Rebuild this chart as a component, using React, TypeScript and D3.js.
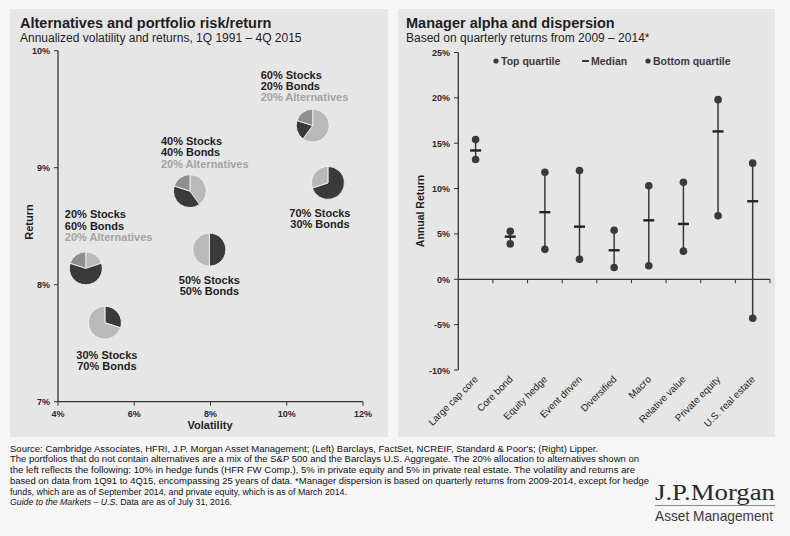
import React from "react";
import * as d3 from "d3";

// ---------- Left chart data ----------
const stocks = [60, 40, 70, 20, 50, 30];
const bonds = [20, 40, 30, 60, 50, 70];
const alternatives = [20, 20, 0, 20, 0, 0];
const volatility = [10.68, 7.46, 11.08, 4.73, 7.97, 5.23];
const portfolioReturn = [9.36, 8.8, 8.87, 8.14, 8.3, 7.675];
const volTicks = [4, 6, 8, 10, 12];
const retTicks = [7, 8, 9, 10];

// ---------- Right chart data ----------
const categories = [
  "Large cap core",
  "Core bond",
  "Equity hedge",
  "Event driven",
  "Diversified",
  "Macro",
  "Relative value",
  "Private equity",
  "U.S. real estate",
];
const topQuartile = [15.4, 5.3, 11.8, 12.0, 5.4, 10.3, 10.7, 19.8, 12.8];
const median = [14.2, 4.7, 7.4, 5.8, 3.2, 6.5, 6.1, 16.3, 8.6];
const bottomQuartile = [13.2, 3.9, 3.3, 2.2, 1.3, 1.5, 3.1, 7.0, -4.3];
const returnTicks = [-10, -5, 0, 5, 10, 15, 20, 25];

const footnotes = [
  "Source: Cambridge Associates, HFRI, J.P. Morgan Asset Management; (Left) Barclays, FactSet, NCREIF, Standard & Poor's; (Right) Lipper.",
  "The portfolios that do not contain alternatives are a mix of the S&P 500 and the Barclays U.S. Aggregate. The 20% allocation to alternatives shown on",
  "the left reflects the following: 10% in hedge funds (HFR FW Comp.), 5% in private equity and 5% in private real estate. The volatility and returns are",
  "based on data from 1Q91 to 4Q15, encompassing 25 years of data. *Manager dispersion is based on quarterly returns from 2009-2014, except for hedge",
  "funds, which are as of September 2014, and private equity, which is as of March 2014.",
];
const footWidths = [588, 629, 625, 639, 337];

const FONT = "'Liberation Sans', Arial, Helvetica, sans-serif";
const DARK = "#3a3a3a";
const LIGHT = "#b9b9b9";
const MID = "#8f8f8f";
const TEXT = "#1e1e1e";

// label layout relative to each pie center
const labelLayout = [
  { dx: -52, dy: -47, anchor: "start" },
  { dx: -29, dy: -46, anchor: "start" },
  { dx: -8, dy: 34, anchor: "middle" },
  { dx: -21, dy: -50, anchor: "start" },
  { dx: 0, dy: 34, anchor: "middle" },
  { dx: 2, dy: 36, anchor: "middle" },
];

export default function App() {
  const W = 790;
  const H = 536;

  // left scales
  const xL = d3.scaleLinear().domain([4, 12]).range([58, 363]);
  const yL = d3.scaleLinear().domain([7, 10]).range([401.7, 50.7]);

  // right scales
  const xR = d3.scaleBand().domain(categories).range([458.3, 770]).paddingInner(0).paddingOuter(0);
  const yR = d3.scaleLinear().domain([-10, 25]).range([370, 52.5]);

  const pieGen = d3.pie<number>().sort(null).value((d) => d);
  const pieR = 16.5;
  const arcGen = d3.arc<d3.PieArcDatum<number>>().innerRadius(0).outerRadius(pieR);

  const lineH = 11.3;

  return (
    <svg
      width={W}
      height={H}
      viewBox={`0 0 ${W} ${H}`}
      style={{ position: "absolute", left: 0, top: 0, fontFamily: FONT }}
    >
      <rect x={0} y={0} width={W} height={H} fill="#f6f6f6" />
      {/* panels */}
      <rect x={10} y={9} width={378} height={428} fill="#e6e6e6" />
      <rect x={398} y={9} width={377} height={428} fill="#e6e6e6" />

      {/* ---------- LEFT ---------- */}
      <text x={20} y={28} fontSize={14.5} fontWeight="bold" fill={TEXT}>
        Alternatives and portfolio risk/return
      </text>
      <text x={20} y={41.5} fontSize={12} fill={TEXT}>
        Annualized volatility and returns, 1Q 1991 – 4Q 2015
      </text>

      {/* axes */}
      <line x1={xL(4)} x2={xL(4)} y1={yL(10)} y2={yL(7)} stroke="#333" strokeWidth={1.3} />
      <line x1={xL(4)} x2={xL(12)} y1={yL(7)} y2={yL(7)} stroke="#333" strokeWidth={1.3} />
      {retTicks.map((t) => (
        <g key={"rt" + t}>
          <line x1={xL(4) - 4} x2={xL(4)} y1={yL(t)} y2={yL(t)} stroke="#333" strokeWidth={1} />
          <text x={xL(4) - 8} y={yL(t) + 3.5} fontSize={9} fontWeight="bold" textAnchor="end" fill="#2a2a2a">
            {t}%
          </text>
        </g>
      ))}
      {volTicks.map((t) => (
        <g key={"vt" + t}>
          <line x1={xL(t)} x2={xL(t)} y1={yL(7)} y2={yL(7) + 4} stroke="#333" strokeWidth={1} />
          <text x={xL(t)} y={yL(7) + 15} fontSize={9} fontWeight="bold" textAnchor="middle" fill="#2a2a2a">
            {t}%
          </text>
        </g>
      ))}
      <text x={210} y={429} fontSize={11} fontWeight="bold" textAnchor="middle" fill={TEXT}>
        Volatility
      </text>
      <text
        transform={`translate(33,222) rotate(-90)`}
        fontSize={11}
        fontWeight="bold"
        textAnchor="middle"
        fill={TEXT}
      >
        Return
      </text>

      {/* pies */}
      {stocks.map((s, i) => {
        const cx = xL(volatility[i]);
        const cy = yL(portfolioReturn[i]);
        const hasAlt = alternatives[i] > 0;
        const vals = hasAlt ? [s, bonds[i], alternatives[i]] : [s, bonds[i]];
        const cols = hasAlt ? [LIGHT, DARK, MID] : [DARK, LIGHT];
        const arcs = pieGen(vals);
        const L = labelLayout[i];
        const lines = [
          { t: `${s}% Stocks`, c: TEXT },
          { t: `${bonds[i]}% Bonds`, c: TEXT },
        ];
        if (hasAlt) lines.push({ t: `${alternatives[i]}% Alternatives`, c: "#a3a3a3" });
        return (
          <g key={"pie" + i}>
            <g transform={`translate(${cx},${cy})`}>
              {arcs.map((a, j) => (
                <path key={j} d={arcGen(a) || ""} fill={cols[j]} stroke="#f2f2f2" strokeWidth={0.9} />
              ))}
            </g>
            {lines.map((ln, k) => (
              <text
                key={k}
                x={cx + L.dx}
                y={cy + L.dy + k * lineH}
                fontSize={11}
                fontWeight="bold"
                textAnchor={L.anchor as any}
                fill={ln.c}
              >
                {ln.t}
              </text>
            ))}
          </g>
        );
      })}

      {/* ---------- RIGHT ---------- */}
      <text x={406} y={28} fontSize={14.5} fontWeight="bold" fill={TEXT}>
        Manager alpha and dispersion
      </text>
      <text x={406} y={41.5} fontSize={12} fill={TEXT}>
        Based on quarterly returns from 2009 – 2014*
      </text>

      {/* legend */}
      <circle cx={496} cy={61} r={2.6} fill={DARK} />
      <text x={501} y={64.5} fontSize={10.5} fontWeight="bold" fill="#3c3c3c">
        Top quartile
      </text>
      <line x1={582} x2={589} y1={61} y2={61} stroke={DARK} strokeWidth={2} />
      <text x={591} y={64.5} fontSize={10.5} fontWeight="bold" fill="#3c3c3c">
        Median
      </text>
      <circle cx={648} cy={61} r={2.6} fill={DARK} />
      <text x={653} y={64.5} fontSize={10.5} fontWeight="bold" fill="#3c3c3c">
        Bottom quartile
      </text>

      {/* axes */}
      <line x1={458.3} x2={458.3} y1={yR(25)} y2={yR(-10)} stroke="#333" strokeWidth={1.3} />
      {returnTicks.map((t) => (
        <g key={"yt" + t}>
          <line x1={454} x2={458.3} y1={yR(t)} y2={yR(t)} stroke="#333" strokeWidth={1} />
          <text x={450} y={yR(t) + 3.5} fontSize={9} fontWeight="bold" textAnchor="end" fill="#2a2a2a">
            {t}%
          </text>
        </g>
      ))}
      <line x1={458.3} x2={770} y1={yR(0)} y2={yR(0)} stroke="#333" strokeWidth={1.3} />
      {categories.map((c, i) => (
        <line
          key={"xt" + i}
          x1={(xR(c) as number) + xR.bandwidth()}
          x2={(xR(c) as number) + xR.bandwidth()}
          y1={yR(0)}
          y2={yR(0) + 4}
          stroke="#333"
          strokeWidth={1}
        />
      ))}
      <text
        transform={`translate(424,211) rotate(-90)`}
        fontSize={10.5}
        fontWeight="bold"
        textAnchor="middle"
        fill={TEXT}
      >
        Annual Return
      </text>

      {categories.map((c, i) => {
        const cx = (xR(c) as number) + xR.bandwidth() / 2;
        return (
          <g key={"cat" + i}>
            <line x1={cx} x2={cx} y1={yR(topQuartile[i])} y2={yR(bottomQuartile[i])} stroke={DARK} strokeWidth={1.5} />
            <circle cx={cx} cy={yR(topQuartile[i])} r={3.8} fill={DARK} />
            <circle cx={cx} cy={yR(bottomQuartile[i])} r={3.8} fill={DARK} />
            <line x1={cx - 5.5} x2={cx + 5.5} y1={yR(median[i])} y2={yR(median[i])} stroke="#222" strokeWidth={2.4} />
            <text
              transform={`translate(${cx + 3},${380}) rotate(-45)`}
              fontSize={9.8}
              textAnchor="end"
              fill={TEXT}
            >
              {c}
            </text>
          </g>
        );
      })}

      {/* ---------- footnotes ---------- */}
      {footnotes.map((f, i) => (
        <text
          key={"fn" + i}
          x={10}
          y={451.7 + i * 10.7}
          fontSize={8.9}
          fill="#111"
          textLength={footWidths[i]}
          lengthAdjust="spacingAndGlyphs"
        >
          {f}
        </text>
      ))}
      <text x={10} y={451.7 + 5 * 10.7} fontSize={8.9} fill="#111" textLength={222} lengthAdjust="spacingAndGlyphs">
        <tspan fontStyle="italic">Guide to the Markets – U.S.</tspan>
        <tspan> Data are as of July 31, 2016.</tspan>
      </text>

      {/* logo */}
      <text
        x={655}
        y={500}
        fontSize={23}
        fontFamily="'Liberation Serif', 'DejaVu Serif', serif"
        fill="#2a2a2a"
        textLength={120}
        lengthAdjust="spacingAndGlyphs"
      >
        J.P.Morgan
      </text>
      <line x1={655} x2={775} y1={505.5} y2={505.5} stroke="#888" strokeWidth={1} />
      <text x={655} y={521} fontSize={14.5} fill="#3a3a3a" textLength={118} lengthAdjust="spacingAndGlyphs">
        Asset Management
      </text>
    </svg>
  );
}
